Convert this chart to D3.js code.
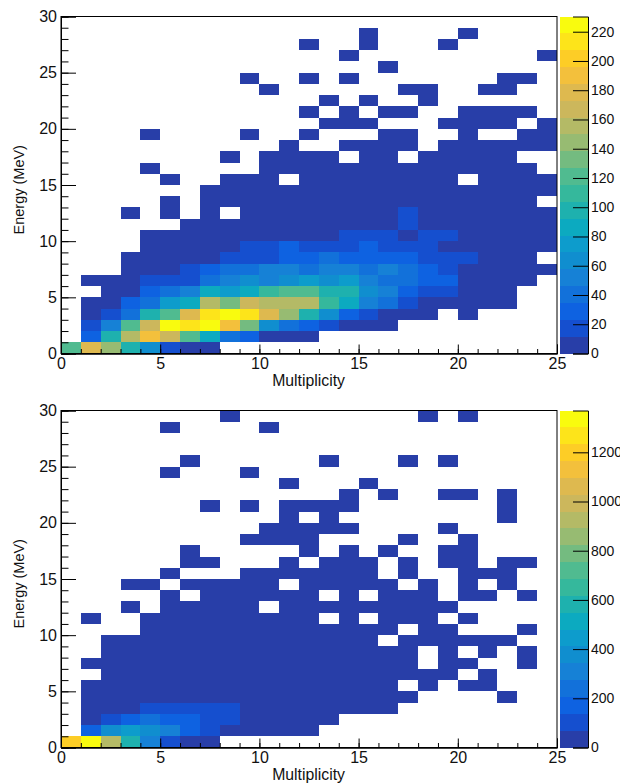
<!DOCTYPE html>
<html>
<head>
<meta charset="utf-8">
<script src="https://cdn.jsdelivr.net/npm/d3@7"></script>
<style>
    body { margin: 0; background: #fff; }
    svg { display: block; }
    text { font-family: "Liberation Sans", Arial, sans-serif; fill: #111; }
    .cell { shape-rendering: crispEdges; }
</style>
</head>
<body>
<div id="chart"></div>
<script>
// rows run from the 29-30 MeV bin (first) down to the 0-1 MeV bin (last), 25 multiplicity bins each, 0 = empty
const topCounts = [
    [0,0,0,0,0, 0,0,0,0,0, 0,0,0,0,0, 0,0,0,0,0, 0,0,0,0,0],
    [0,0,0,0,0, 0,0,0,0,0, 0,0,0,0,0, 3,0,0,0,0, 3,0,0,0,0],
    [0,0,0,0,0, 0,0,0,0,0, 0,0,3,0,0, 3,0,0,0,3, 0,0,0,0,0],
    [0,0,0,0,0, 0,0,0,0,0, 0,0,0,0,3, 0,0,0,0,0, 0,0,0,0,3],
    [0,0,0,0,0, 0,0,0,0,0, 0,0,0,0,0, 0,3,0,0,0, 0,0,0,0,0],
    [0,0,0,0,0, 0,0,0,0,3, 0,0,3,0,3, 0,0,0,0,0, 0,0,3,3,0],
    [0,0,0,0,0, 0,0,0,0,0, 3,0,0,0,0, 0,0,3,3,0, 0,3,3,0,0],
    [0,0,0,0,0, 0,0,0,0,0, 0,0,0,3,0, 3,0,0,3,0, 0,0,0,0,0],
    [0,0,0,0,0, 0,0,0,0,0, 0,0,3,0,3, 0,3,3,0,0, 3,3,3,3,0],
    [0,0,0,0,0, 0,0,0,0,0, 0,0,0,3,3, 3,0,0,0,3, 3,3,3,0,3],
    [0,0,0,0,3, 0,0,0,0,3, 0,0,3,0,0, 0,3,3,0,0, 3,0,0,3,3],
    [0,0,0,0,0, 0,0,0,0,0, 0,3,0,0,3, 3,3,3,0,3, 3,3,3,3,3],
    [0,0,0,0,0, 0,0,0,3,0, 3,3,3,3,0, 3,3,0,3,3, 3,3,3,0,0],
    [0,0,0,0,3, 0,0,0,0,0, 3,3,3,3,3, 3,3,3,3,3, 3,3,3,3,0],
    [0,0,0,0,0, 3,0,0,3,3, 3,0,3,3,3, 3,3,3,3,3, 0,3,3,3,3],
    [0,0,0,0,0, 0,0,3,3,3, 3,3,3,3,3, 3,3,3,3,3, 3,3,3,3,3],
    [0,0,0,0,0, 3,0,3,3,3, 3,3,3,3,3, 3,3,3,3,3, 3,3,3,3,0],
    [0,0,0,3,0, 3,0,3,0,3, 3,3,3,3,3, 3,3,17,3,3, 3,3,3,3,3],
    [0,0,0,0,0, 0,3,3,3,3, 3,3,3,3,3, 3,3,17,3,3, 3,3,3,3,3],
    [0,0,0,0,3, 3,3,3,3,3, 3,3,3,3,17, 17,17,3,17,17, 3,3,3,3,3],
    [0,0,0,0,3, 3,3,3,3,17, 17,29,17,17,17, 29,17,17,17,3, 3,3,3,3,3],
    [0,0,0,3,3, 3,3,3,17,17, 17,29,29,40,29, 29,29,29,17,17, 17,3,3,3,0],
    [0,0,0,3,3, 3,17,29,40,40, 52,52,40,52,52, 40,52,40,29,17, 3,3,3,3,3],
    [0,3,3,3,17, 17,17,40,52,63, 52,63,75,63,80, 52,40,40,29,29, 3,3,3,3,0],
    [0,0,3,3,29, 40,52,86,75,86, 109,121,121,98,98, 63,52,29,17,17, 3,3,3,0,0],
    [0,3,3,29,40, 80,86,155,132,172, 155,155,155,109,86, 52,40,17,3,3, 3,3,3,0,0],
    [0,3,17,40,98, 121,178,213,225,213, 178,144,98,63,29, 17,3,3,3,0, 3,0,0,0,0],
    [0,17,52,121,167, 225,213,225,190,132, 63,40,29,17,3, 3,3,0,0,0, 0,0,0,0,0],
    [0,29,98,155,190, 167,121,86,40,29, 3,3,3,0,0, 0,0,0,0,0, 0,0,0,0,0],
    [121,178,144,98,63, 17,3,3,0,0, 0,0,0,0,0, 0,0,0,0,0, 0,0,0,0,0]
];
const bottomCounts = [
    [0,0,0,0,0, 0,0,0,15,0, 0,0,0,0,0, 0,0,0,15,0, 15,0,0,0,0],
    [0,0,0,0,0, 15,0,0,0,0, 15,0,0,0,0, 0,0,0,0,0, 0,0,0,0,0],
    [0,0,0,0,0, 0,0,0,0,0, 0,0,0,0,0, 0,0,0,0,0, 0,0,0,0,0],
    [0,0,0,0,0, 0,0,0,0,0, 0,0,0,0,0, 0,0,0,0,0, 0,0,0,0,0],
    [0,0,0,0,0, 0,15,0,0,0, 0,0,0,15,0, 0,0,15,0,15, 0,0,0,0,0],
    [0,0,0,0,0, 15,0,0,0,15, 0,0,0,0,0, 0,0,0,0,0, 0,0,0,0,0],
    [0,0,0,0,0, 0,0,0,0,0, 0,15,0,0,0, 15,0,0,0,0, 0,0,0,0,0],
    [0,0,0,0,0, 0,0,0,0,0, 0,0,0,0,15, 0,15,0,0,15, 15,0,15,0,0],
    [0,0,0,0,0, 0,0,15,0,15, 0,15,15,15,15, 0,0,0,0,0, 0,0,15,0,0],
    [0,0,0,0,0, 0,0,0,0,0, 0,15,0,15,0, 0,0,0,0,0, 0,0,15,0,0],
    [0,0,0,0,0, 0,0,0,0,0, 15,15,15,15,15, 0,0,0,0,15, 0,0,0,0,0],
    [0,0,0,0,0, 0,0,0,0,15, 15,15,15,0,0, 0,0,15,0,0, 15,0,0,0,0],
    [0,0,0,0,0, 0,15,0,0,0, 0,0,15,0,15, 0,15,0,0,15, 15,0,0,0,0],
    [0,0,0,0,0, 0,15,15,0,0, 0,15,0,15,15, 15,0,15,0,15, 15,0,15,15,0],
    [0,0,0,0,0, 15,0,0,0,15, 15,15,15,15,15, 15,0,15,0,0, 15,15,15,0,0],
    [0,0,0,15,15, 0,15,15,15,15, 15,0,15,15,15, 15,15,0,15,0, 15,0,15,0,0],
    [0,0,0,0,0, 15,0,15,15,15, 15,15,15,0,15, 0,15,15,15,0, 15,15,0,15,0],
    [0,0,0,15,0, 15,15,15,15,15, 0,15,15,15,15, 15,15,15,15,15, 0,0,0,0,0],
    [0,15,0,0,15, 15,15,15,15,15, 15,15,15,0,15, 0,15,15,15,0, 15,0,0,0,0],
    [0,0,0,0,15, 15,15,15,15,15, 15,15,15,15,15, 15,15,0,15,15, 0,0,0,15,0],
    [0,0,15,15,15, 15,15,15,15,15, 15,15,15,15,15, 15,0,15,15,15, 15,15,15,0,0],
    [0,0,15,15,15, 15,15,15,15,15, 15,15,15,15,15, 15,15,15,0,15, 0,15,0,15,0],
    [0,15,15,15,15, 15,15,15,15,15, 15,15,15,15,15, 15,15,15,0,15, 15,0,0,15,0],
    [0,0,15,15,15, 15,15,15,15,15, 15,15,15,15,15, 15,15,15,15,15, 0,15,0,0,0],
    [0,15,15,15,15, 15,15,15,15,15, 15,15,15,15,15, 15,15,0,15,0, 15,15,0,0,0],
    [0,15,15,15,15, 15,15,15,15,15, 15,15,15,15,15, 15,15,15,0,0, 0,0,15,0,0],
    [0,15,15,15,100, 100,100,100,100,15, 15,15,15,15,15, 15,15,0,0,0, 0,0,0,0,0],
    [0,15,100,170,240, 170,170,100,100,15, 15,15,15,15,0, 0,0,0,0,0, 0,0,0,0,0],
    [0,170,377,445,377, 308,170,100,15,15, 15,15,15,0,0, 0,0,0,0,0, 0,0,0,0,0],
    [1200,1335,925,582,308, 100,15,15,0,0, 0,0,0,0,0, 0,0,0,0,0, 0,0,0,0,0]
];

const xMajor = [0, 5, 10, 15, 20, 25];
const yMajor = [0, 5, 10, 15, 20, 25, 30];
const topBarTicks = [0, 20, 40, 60, 80, 100, 120, 140, 160, 180, 200, 220];
const bottomBarTicks = [0, 200, 400, 600, 800, 1000, 1200];
const topMax = 230.4;
const bottomMax = 1370;

// 20 contour colours, low to high
const palette = [
    '#283ea8', '#154fcf', '#0e62e1', '#1271da', '#1681d6',
    '#108ecf', '#0d9ccc', '#0caac0', '#1eb1ae', '#35b89c',
    '#50bb90', '#74bb80', '#97bb72', '#b4ba66', '#ccb75c',
    '#deb94f', '#f3c03c', '#fdcd26', '#fde41a', '#f9fb0e'
];

const svg = d3.select('#chart').append('svg').attr('width', 620).attr('height', 783);

function drawPanel(counts, maxVal, barTicks, top, bottom) {
    const left = 61, right = 557;
    const x = d3.scaleLinear().domain([0, 25]).range([left, right]);
    const y = d3.scaleLinear().domain([0, 30]).range([bottom, top]);
    const color = d3.scaleQuantize().domain([0, maxVal]).range(palette);
    const g = svg.append('g');

    counts.forEach((row, r) => {
        const energy = counts.length - 1 - r;
        g.append('g').selectAll('rect')
            .data(row.map((v, c) => ({ v, c })).filter(d => d.v > 0))
            .enter().append('rect')
            .attr('class', 'cell')
            .attr('x', d => x(d.c))
            .attr('y', y(energy + 1))
            .attr('width', d => x(d.c + 1) - x(d.c))
            .attr('height', y(energy) - y(energy + 1))
            .attr('fill', d => color(d.v));
    });

    // frame
    g.append('rect')
        .attr('x', left).attr('y', top)
        .attr('width', right - left).attr('height', bottom - top)
        .attr('fill', 'none').attr('stroke', '#000').attr('stroke-width', 1);

    // axes, ticks point into the frame
    g.append('g')
        .attr('transform', `translate(0,${bottom})`)
        .call(d3.axisBottom(x).tickValues(d3.range(0, 26)).tickSize(-4.5).tickFormat(''));
    g.append('g')
        .attr('transform', `translate(0,${bottom})`)
        .call(d3.axisBottom(x).tickValues(xMajor).tickSize(-9).tickPadding(4).tickFormat(d3.format('d')))
        .selectAll('text').style('font-size', '16px');
    g.append('g')
        .attr('transform', `translate(${left},0)`)
        .call(d3.axisLeft(y).tickValues(d3.range(0, 31)).tickSize(-7.5).tickFormat(''));
    g.append('g')
        .attr('transform', `translate(${left},0)`)
        .call(d3.axisLeft(y).tickValues(yMajor).tickSize(-15).tickPadding(4).tickFormat(d3.format('d')))
        .selectAll('text').style('font-size', '16px');

    g.append('text')
        .attr('x', 345).attr('y', bottom + 32)
        .attr('text-anchor', 'end')
        .style('font-size', '15.8px')
        .text('Multiplicity');
    g.append('text')
        .attr('transform', `translate(24,${top + 218}) rotate(-90)`)
        .style('font-size', '14.5px')
        .text('Energy (MeV)');

    // colour bar
    const barLeft = 560, barRight = 588;
    const z = d3.scaleLinear().domain([0, maxVal]).range([bottom, top]);
    const bandWidth = maxVal / palette.length;
    g.append('g').selectAll('rect')
        .data(palette)
        .enter().append('rect')
        .attr('class', 'cell')
        .attr('x', barLeft)
        .attr('y', (d, i) => z((i + 1) * bandWidth))
        .attr('width', barRight - barLeft)
        .attr('height', (d, i) => z(i * bandWidth) - z((i + 1) * bandWidth))
        .attr('fill', d => d);
    const barAxis = g.append('g')
        .attr('transform', `translate(${barRight},0)`)
        .call(d3.axisRight(z).tickValues(barTicks).tickSize(-15).tickPadding(3).tickFormat(d3.format('d')));
    barAxis.selectAll('text').style('font-size', '14px');
}

drawPanel(topCounts, topMax, topBarTicks, 16.5, 353.5);
drawPanel(bottomCounts, bottomMax, bottomBarTicks, 410.5, 747.5);
</script>
</body>
</html>
